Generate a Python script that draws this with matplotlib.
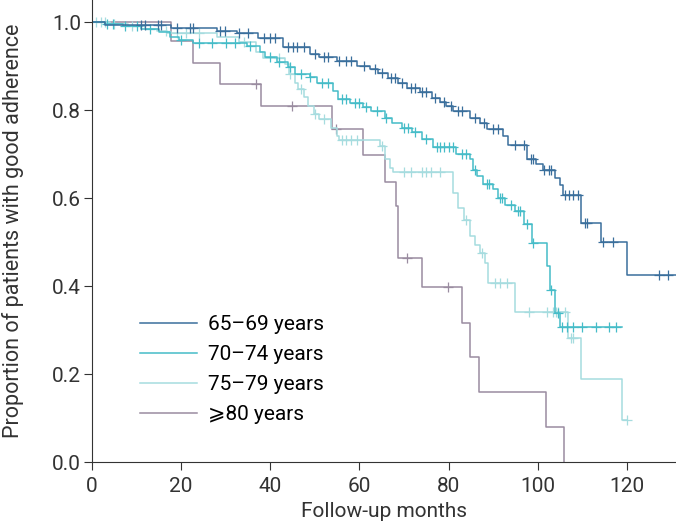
import matplotlib
matplotlib.use('Agg')
import matplotlib.pyplot as plt
import numpy as np

plt.rcParams['font.family'] = ['Roboto', 'DejaVu Sans']

labels = ['65\u201369 years', '70\u201374 years', '75\u201379 years', '\u2a7e80 years']
colors = ['#3a6f9c', '#45bcc8', '#a6dcdf', '#9a8ca0']

# step times (months) and survival after each step
t_65 = [0, 3, 17.7, 28, 32.5, 37.3, 42.8, 49, 51, 54.9, 59.4, 62.4, 64.2, 66.5, 68.7, 70.6,
        73.6, 76.2, 78, 79.5, 81, 84.8, 87, 88.5, 92.3, 93.4, 97.5, 99.7, 101.1, 103.9,
        105, 105.7, 109.7, 114.1, 120.1, 131]
s_65 = [1.0, 0.994, 0.986, 0.980, 0.975, 0.963, 0.944, 0.927, 0.920, 0.911, 0.901, 0.893,
        0.884, 0.872, 0.862, 0.850, 0.840, 0.828, 0.818, 0.809, 0.797, 0.782, 0.771, 0.757,
        0.741, 0.720, 0.688, 0.677, 0.664, 0.646, 0.629, 0.607, 0.544, 0.500, 0.426, 0.426]
c_65 = [11.1, 11.9, 14.9, 15.5, 19, 22, 22.7, 28.7, 29.8, 33, 35, 38.5, 40, 41, 44, 45, 46,
        47.5, 50, 52, 53, 55.5, 57, 58, 61, 63.5, 65, 67, 68, 69.5, 71.5, 72.5, 74, 75, 77,
        79, 80.5, 82, 83, 86, 88, 90, 91, 95, 97, 98.5, 99, 101.5, 102.5, 103, 106, 107,
        108, 109, 110.5, 111, 114.7, 116.9, 127.2, 129.2]

t_70 = [0, 3, 7, 11, 15, 17.5, 19.5, 22.7, 34.7, 37.7, 38.8, 41.4, 44, 45.5, 48.9, 50.5,
        54.1, 55.2, 57.9, 60.9, 62.5, 65.7, 67.2, 69.5, 71.7, 74, 76.6, 81.6, 84.8, 85.5,
        86.3, 87.8, 90, 91, 92.6, 94.9, 96.8, 98.6, 102, 102.7, 103.9, 105, 118.8]
s_70 = [1.0, 0.996, 0.990, 0.985, 0.978, 0.965, 0.958, 0.953, 0.946, 0.931, 0.920, 0.908,
        0.897, 0.882, 0.874, 0.862, 0.844, 0.826, 0.815, 0.806, 0.798, 0.781, 0.771, 0.760,
        0.749, 0.733, 0.716, 0.701, 0.688, 0.664, 0.650, 0.631, 0.620, 0.601, 0.585, 0.570,
        0.540, 0.498, 0.445, 0.392, 0.339, 0.306, 0.306]
c_70 = [3.4, 4.7, 7.5, 10, 13, 20, 24, 27, 30, 32, 35.5, 40, 42, 44.5, 47, 49, 51.5, 53, 56,
        57, 59, 60, 61.5, 64, 66, 70, 71, 72.5, 75, 77.5, 78, 79, 80, 81, 83, 84, 86, 88.5,
        89, 91.5, 92, 94, 95.5, 96, 97.5, 99, 103, 104.5, 105.5, 106.5, 108, 110, 113, 116,
        117.5]

t_75 = [0, 4, 8, 12, 14.5, 16.8, 28, 33, 36.9, 38.4, 43.3, 44.1, 45.5, 46.3, 47.5, 48.5,
        49.7, 51, 53.6, 55, 55.4, 64.6, 65.7, 66.8, 67.6, 81, 82.2, 83.5, 84.8, 85.9, 87,
        88.2, 88.9, 94.9, 106.8, 109.8, 118.9, 120]
s_75 = [1.0, 0.995, 0.990, 0.985, 0.980, 0.975, 0.967, 0.955, 0.931, 0.919, 0.904, 0.882,
        0.862, 0.847, 0.830, 0.809, 0.790, 0.779, 0.758, 0.741, 0.731, 0.718, 0.688, 0.669,
        0.658, 0.612, 0.578, 0.550, 0.513, 0.494, 0.475, 0.452, 0.407, 0.341, 0.282, 0.188,
        0.096, 0.096]
c_75 = [1, 2, 3, 5, 9, 16.5, 19, 21, 24, 34, 42, 44.5, 47, 50, 52, 56, 57, 58, 59.5, 65, 70,
        71.5, 74, 75, 76, 78, 84, 87.5, 90.5, 91.5, 93, 98, 102, 103.5, 104, 104.5, 106,
        107.5, 108, 120]

t_80 = [0, 17.7, 22.7, 28.7, 38.0, 53.8, 60.9, 65.7, 68.1, 68.7, 74.0, 82.9, 84.9, 86.9,
        101.8, 105.9]
s_80 = [1.0, 0.956, 0.906, 0.858, 0.809, 0.756, 0.697, 0.636, 0.581, 0.463, 0.398, 0.317,
        0.238, 0.159, 0.080, 0.0]
c_80 = [36.9, 44.8, 54.7, 70.7, 79.9]

groups = [(t_65, s_65, c_65), (t_70, s_70, c_70), (t_75, s_75, c_75), (t_80, s_80, c_80)]

fig = plt.figure(figsize=(6.76, 5.25), dpi=100)
ax = fig.add_axes([0.136, 0.12, 0.864, 0.88])

# draw oldest first so younger groups sit on top
for i in [3, 2, 1, 0]:
    t, s, c = groups[i]
    ax.step(t, s, where='post', color=colors[i], lw=1.1, label=labels[i])
    t_arr = np.array(t)
    idx = np.searchsorted(t_arr, c, side='right') - 1
    ax.plot(c, np.array(s)[idx], '+', color=colors[i], ms=7, mew=0.9, ls='none')

h, l = ax.get_legend_handles_labels()
order = [3, 2, 1, 0]
ax.legend([h[k] for k in order], [l[k] for k in order], loc='upper left',
          bbox_to_anchor=(0.05, 0.358), frameon=False, fontsize=15,
          handlelength=2.75, handletextpad=0.5, labelspacing=0.52)

ax.set_xlim(0, 131)
ax.set_ylim(0, 1.05)
ax.set_xticks([0, 20, 40, 60, 80, 100, 120])
ax.set_yticks([0.0, 0.2, 0.4, 0.6, 0.8, 1.0])
ax.set_yticklabels(['0.0', '0.2', '0.4', '0.6', '0.8', '1.0'])
ax.spines['top'].set_visible(False)
ax.spines['right'].set_visible(False)
for sp in ['left', 'bottom']:
    ax.spines[sp].set_color('#333333')
ax.tick_params(labelsize=15, length=6, color='#333333', labelcolor='#333333')
ax.tick_params(axis='x', pad=5)
ax.tick_params(axis='y', pad=2)
ax.set_xlabel('Follow-up months', fontsize=15, color='#333333', labelpad=4)
ax.set_ylabel('Proportion of patients with good adherence', fontsize=15.5,
              color='#333333', labelpad=20)

plt.savefig('out.png', dpi=100)
